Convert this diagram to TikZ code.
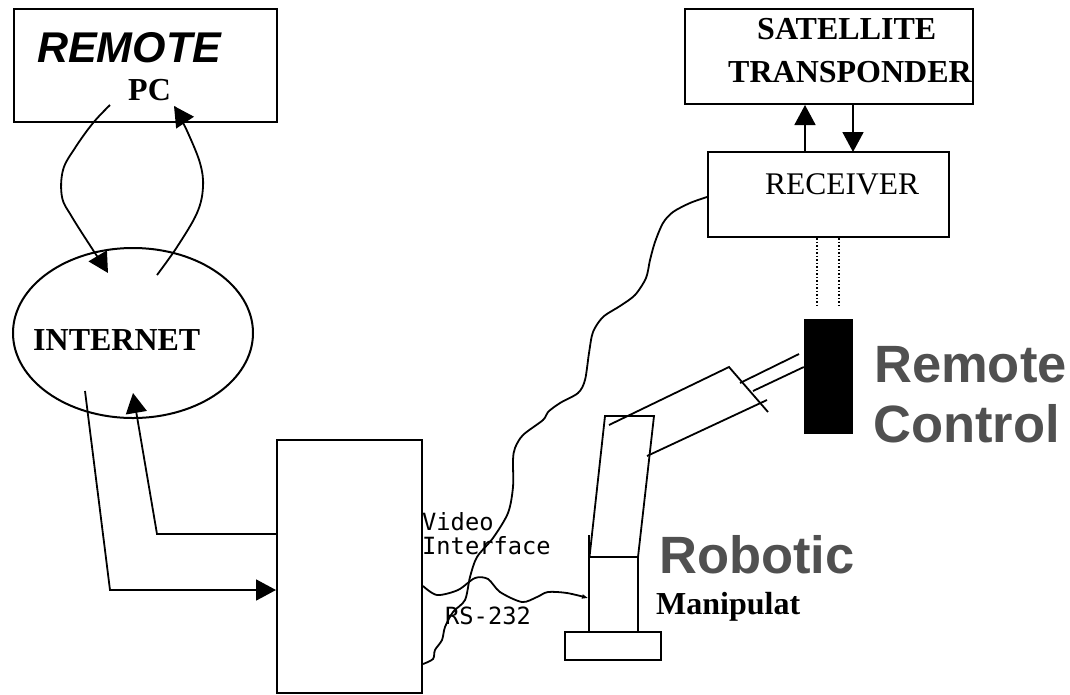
\documentclass[tikz,border=0pt]{standalone}
\usepackage{fontspec}
\setmainfont{Liberation Serif}
\setsansfont{Liberation Sans}
\setmonofont{DejaVu Sans Mono}
\usetikzlibrary{arrows.meta,shapes.geometric}
\definecolor{labelgray}{HTML}{505050}
\tikzset{
  box/.style={draw,line width=2pt,inner sep=0pt,minimum width=#1},
  txt/.style={inner sep=0pt,anchor=base west},
  serifbf/.style={txt,font=\fontsize{32}{32}\selectfont\rmfamily\bfseries},
  serifrm/.style={txt,font=\fontsize{31.5}{32}\selectfont\rmfamily},
  bigsans/.style={txt,text=labelgray,font=\fontsize{52.5}{53}\selectfont\sffamily\bfseries},
  mono/.style={txt,font=\fontsize{23.7}{24}\selectfont\ttfamily},
  wire/.style={line width=1.8pt},
  head/.style={-{Triangle[length=20pt,width=21pt]}}
}
\begin{document}
\begin{tikzpicture}[x=1pt,y=-1pt]
        \useasboundingbox (0,0) rectangle (1070,694);
        %blocchi
        \node[box=263pt,minimum height=113pt] (remote) at (145.5,65.5) {};
        \node[box=288pt,minimum height=95pt] (satellite) at (829,56.5) {};
        \node[box=241pt,minimum height=85pt] (receiver) at (828.5,194.5) {};
        \node[box=145pt,minimum height=253pt] (computer) at (349.5,566.5) {};
        \node[draw,ellipse,line width=2pt,inner sep=0pt,minimum width=240pt,minimum height=170pt] (internet) at (133,333) {};
        \node[fill=black,inner sep=0pt,minimum width=49pt,minimum height=115pt] (control) at (828.5,376.5) {};
        %testi
        \node[txt,font=\fontsize{43}{43}\selectfont\sffamily\bfseries\itshape] (remotetxt) at (37,62) {REMOTE};
        \node[serifbf] (pctxt) at (128,100) {PC};
        \node[serifbf] (sattxt) at (757,39) {SATELLITE};
        \node[serifbf] (transptxt) at (728,82) {TRANSPONDER};
        \node[serifrm] (rectxt) at (765,194) {RECEIVER};
        \node[serifbf] (nettxt) at (33,350) {INTERNET};
        \node[bigsans] (remtxt) at (874,382) {Remote};
        \node[bigsans] (ctrltxt) at (873,442) {Control};
        \node[bigsans] (robtxt) at (659,573) {Robotic};
        \node[serifbf] (mantxt) at (656,614) {Manipulat};
        \node[mono] (vidtxt) at (422,530) {Video};
        \node[mono] (inttxt) at (422,554) {Interface};
        \node[mono] (rstxt) at (445,624) {RS-232};
        %estremi liberi
        \coordinate (pcout) at (110,105);
        \coordinate (pcin) at (174,106);
        \coordinate (netin) at (108,273);
        \coordinate (netout) at (157,275);
        \coordinate (netin2) at (133,393);
        \coordinate (netout2) at (85,391);
        \coordinate (compout) at (computer.west |- 0,534);
        \coordinate (compin) at (computer.west |- 0,590);
        \coordinate (vidstart) at (receiver.west |- 0,197);
        \coordinate (vidend) at (computer.east |- 0,664);
        \coordinate (rsstart) at (computer.east |- 0,586);
        \coordinate (rsend) at (588,598);
        %internet e pc
        \draw[wire,head] plot[smooth,tension=.6] coordinates {(pcout) (93,123) (75,148) (63,170) (62,197) (72,217) (93,250) (103,265) (netin)};
        \draw[wire,head] plot[smooth,tension=.6] coordinates {(netout) (177,247) (197,213) (203,187) (200,163) (188,133) (178,113) (pcin)};
        \draw[wire,head] (compout) -- (157,534) -- (netin2);
        \draw[wire,head] (netout2) -- (110,590) -- (compin);
        %satellite
        \draw[wire,head] (805,152) -- (805,105);
        \draw[wire,head] (853,105) -- (853,152);
        \draw[line width=1.5pt,dotted] (817,238) -- (817,307);
        \draw[line width=1.5pt,dotted] (839,238) -- (839,307);
        %cavi
        \draw[wire] plot[smooth,tension=.5] coordinates {(vidstart) (690,203) (673,212) (663,223) (655,242) (650,260) (646,278) (635,295) (620,306) (603,317) (593,332) (589,353) (585,380) (578,393) (560,403) (548,412) (543,420) (523,435) (515,448) (513,460) (513,487) (508,513) (493,538) (477,557) (470,577) (465,600) (453,612) (445,627) (442,640) (435,650) (433,659) (vidend)};
        \draw[wire,-{Triangle[length=6pt,width=4pt]}] plot[smooth,tension=.5] coordinates {(rsstart) (437,595) (458,590) (475,578) (488,579) (500,592) (522,602) (537,597) (548,592) (567,593) (rsend)};
        %manipolatore
        \node[box=96pt,minimum height=28pt] (basement) at (613,646) {};
        \draw[wire] (589,632) rectangle (638,557);
        \draw[wire] (589,557) -- (589,535);
        \draw[wire] (589.5,557) -- (605,416) -- (654,416) -- (638,557);
        \draw[wire] (609,425) -- (729,367) -- (768,412);
        \draw[wire] (647,456) -- (767,400);
        \draw[wire] (740,383) -- (799,354);
        \draw[wire] (753,391) -- (control.west |- 0,367);
\end{tikzpicture}
\end{document}
